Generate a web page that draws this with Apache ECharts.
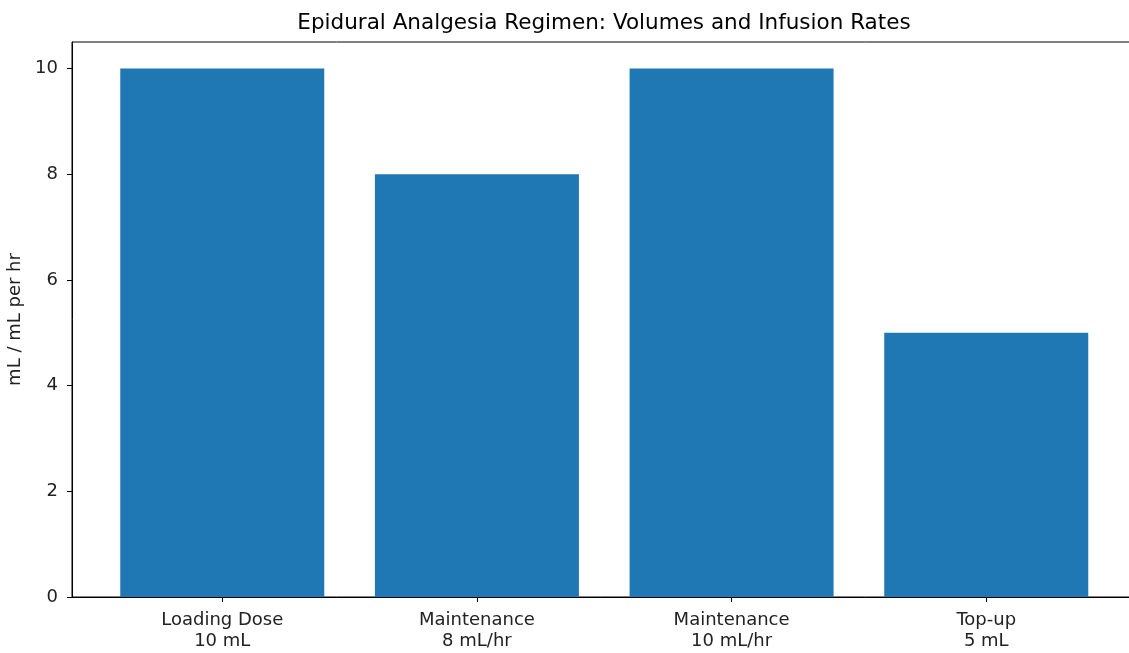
<!DOCTYPE html>
<html>
<head>
<meta charset="utf-8">
<script src="https://cdn.jsdelivr.net/npm/echarts@6/dist/echarts.min.js"></script>
<style>html,body{margin:0;padding:0;background:#fff}#c{width:1129px;height:653px}</style>
</head>
<body>
<div id="c"></div>
<script>
const categories = ['Loading Dose\n10 mL', 'Maintenance\n8 mL/hr', 'Maintenance\n10 mL/hr', 'Top-up\n5 mL'];
const values = [10, 8, 10, 5];
const yTicks = [0, 2, 4, 6, 8, 10];
const titleText = 'Epidural Analgesia Regimen: Volumes and Infusion Rates';
const yAxisName = 'mL / mL per hr';

const chart = echarts.init(document.getElementById('c'), null, {renderer: 'canvas'});
const font = 'DejaVu Sans';
const idx = categories.map((_, i) => i);
chart.setOption({
  animation: false,
  backgroundColor: '#fff',
  title: {
    text: titleText, left: 599, textAlign: 'center', top: 7,
    textStyle: {fontFamily: font, fontSize: 21.5, fontWeight: 'normal', color: '#000'}
  },
  grid: {left: 72, right: -7.5, top: 42, bottom: 56, show: true, borderColor: '#000', borderWidth: 1,
         backgroundColor: 'transparent', containLabel: false, outerBoundsMode: 'none'},
  xAxis: {
    type: 'value', min: -0.59, max: 3.59,
    splitLine: {show: false},
    axisLine: {show: true, onZero: false, lineStyle: {color: '#000', width: 1}},
    axisTick: {show: true, customValues: idx, length: 5, lineStyle: {color: '#000'}},
    axisLabel: {
      customValues: idx, formatter: v => categories[Math.round(v)],
      fontFamily: font, fontSize: 18, color: '#222', lineHeight: 21, margin: 13
    }
  },
  yAxis: {
    type: 'value', min: 0, max: 10.5, interval: 2,
    name: yAxisName, nameLocation: 'middle', nameGap: 36,
    nameTextStyle: {fontFamily: font, fontSize: 18, color: '#222'},
    splitLine: {show: false},
    axisLine: {show: true, onZero: false, lineStyle: {color: '#000', width: 1}},
    axisTick: {show: true, length: 5, lineStyle: {color: '#000'}},
    axisLabel: {
      showMaxLabel: false,
      formatter: v => (yTicks.includes(v) ? String(v) : ''),
      fontFamily: font, fontSize: 18, color: '#222', margin: 14
    }
  },
  series: [{
    type: 'bar',
    data: values.map((v, i) => [i, v]),
    barWidth: 204,
    itemStyle: {color: '#1f77b4'}
  }]
});
</script>
</body>
</html>
